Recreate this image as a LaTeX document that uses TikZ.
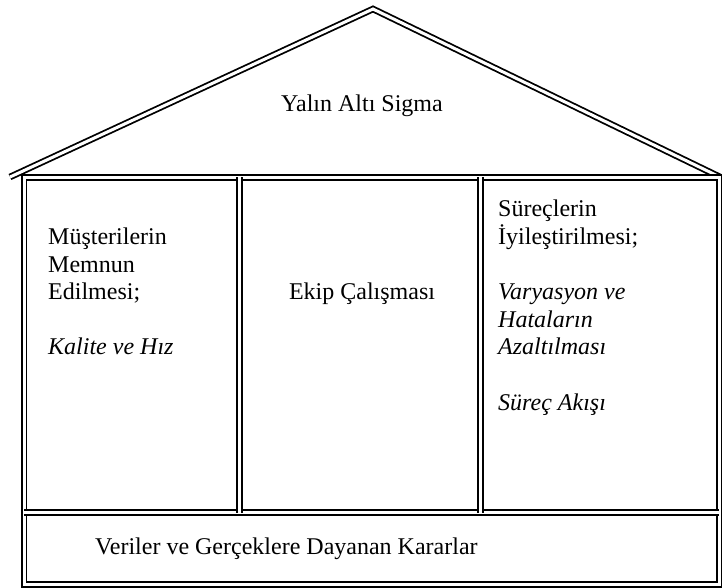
\documentclass[tikz,border=0pt]{standalone}
\usepackage{fontspec}
\setmainfont{Liberation Serif}
\begin{document}
\begin{tikzpicture}[x=1pt,y=-1pt,
  dbl/.style={draw=black,line width=1.8pt,double=white,double distance=3pt},
  lbl/.style={font=\fontsize{24}{27.6}\selectfont,inner sep=0pt},
  txt/.style={lbl,align=left,anchor=north west}]
\useasboundingbox (0,0) rectangle (723,588);
% roof
\coordinate (rl) at (10,177);
\coordinate (ap) at (373,9);
\coordinate (rr) at (720,177);
\draw[dbl,line join=miter] (rl) -- (ap) -- (rr);
% house body
\coordinate (tl) at (24,177.5);
\coordinate (br) at (719,584.5);
\draw[dbl] (tl) rectangle (br);
\coordinate (ml) at (24,512.5);
\coordinate (mr) at (719,512.5);
\draw[dbl] (ml) -- (mr);
\coordinate (c1t) at (239.5,177.5);
\coordinate (c1b) at (239.5,512.5);
\coordinate (c2t) at (480.5,177.5);
\coordinate (c2b) at (480.5,512.5);
\draw[dbl] (c1t) -- (c1b);
\draw[dbl] (c2t) -- (c2b);
% texts
\node[lbl] (roof) at (362,106) {Yalın Altı Sigma};
\node[txt] (left) at (48,227.6) {Müşterilerin\\Memnun\\Edilmesi;\\[27.6pt]\textit{Kalite ve Hız}};
\node[lbl,anchor=base] (mid) at (362,299.2) {Ekip Çalışması};
\node[txt] (right) at (498,200) {Süreçlerin\\İyileştirilmesi;\\[27.6pt]\textit{Varyasyon ve}\\\textit{Hataların}\\\textit{Azaltılması}\\[27.6pt]\textit{Süreç Akışı}};
\node[lbl,anchor=west] (bot) at (95,549) {Veriler ve Gerçeklere Dayanan Kararlar};
\end{tikzpicture}
\end{document}
